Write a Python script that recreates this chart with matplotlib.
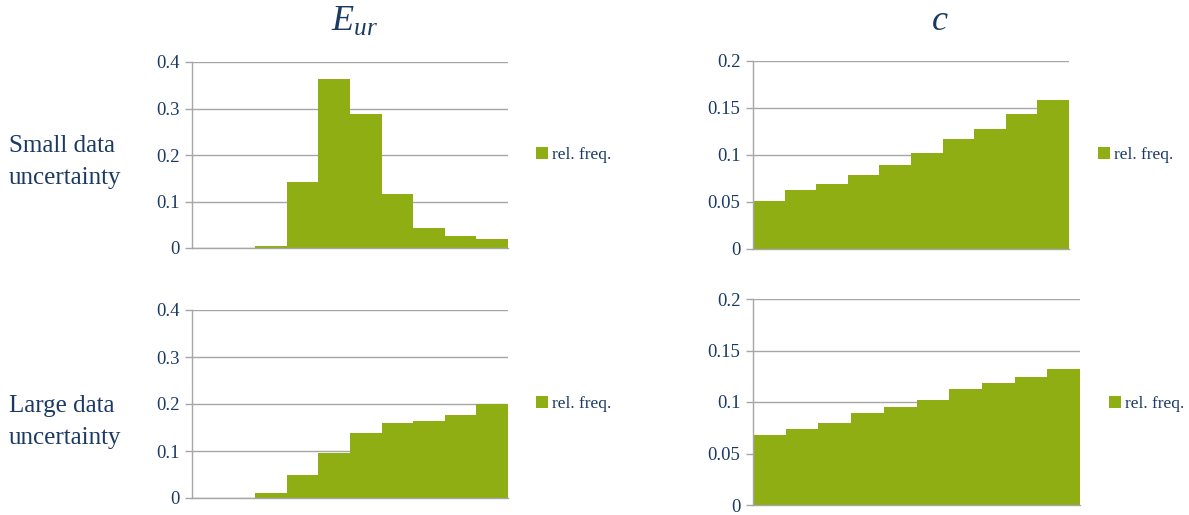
import matplotlib
matplotlib.use("Agg")
import matplotlib.pyplot as plt
from matplotlib.patches import Patch

plt.rcParams['font.family'] = ['Liberation Serif', 'DejaVu Serif']
plt.rcParams['mathtext.fontset'] = 'custom'
plt.rcParams['mathtext.it'] = 'Liberation Serif:italic'
plt.rcParams['mathtext.rm'] = 'Liberation Serif'

# Data (relative frequencies of 10 histogram bins)
bins = list(range(10))
eur_small = [0.0, 0.0, 0.004, 0.141, 0.364, 0.289, 0.116, 0.044, 0.025, 0.020]
eur_large = [0.0, 0.001, 0.011, 0.049, 0.096, 0.139, 0.160, 0.163, 0.177, 0.200]
c_small = [0.051, 0.063, 0.069, 0.079, 0.089, 0.102, 0.117, 0.128, 0.144, 0.158]
c_large = [0.068, 0.074, 0.080, 0.089, 0.095, 0.102, 0.113, 0.118, 0.124, 0.132]
eur_ticks = [0, 0.1, 0.2, 0.3, 0.4]
eur_ticklabels = ['0', '0.1', '0.2', '0.3', '0.4']
c_ticks = [0, 0.05, 0.1, 0.15, 0.2]
c_ticklabels = ['0', '0.05', '0.1', '0.15', '0.2']
col_titles = [r'$E_{ur}$', r'$c$']
row_labels = ['Small data\nuncertainty', 'Large data\nuncertainty']
legend_label = 'rel. freq.'

W, H = 1189, 515
TEXT = '#1b3a63'
BAR = '#8eae14'
GRID = '#a6a6a6'

fig = plt.figure(figsize=(W / 100, H / 100), dpi=100)
fig.patch.set_facecolor('white')


def px_axes(l, t, r, b):
    return fig.add_axes([l / W, 1 - b / H, (r - l) / W, (b - t) / H])


def style(ax, values, ticks, labels, ymax, legend_xy):
    ax.bar(bins, values, width=1.0, align='edge', color=BAR, edgecolor='none', zorder=2)
    ax.set_xlim(0, len(bins))
    ax.set_ylim(0, ymax)
    ax.set_yticks(ticks)
    ax.set_yticklabels(labels)
    ax.set_xticks([])
    ax.yaxis.grid(True, color=GRID, linewidth=1.0, zorder=0)
    ax.set_axisbelow(True)
    for s in ['top', 'right']:
        ax.spines[s].set_visible(False)
    for s in ['left', 'bottom']:
        ax.spines[s].set_color(GRID)
        ax.spines[s].set_linewidth(1.0)
    ax.tick_params(axis='y', colors=GRID, labelcolor=TEXT, labelsize=13.5,
                   length=5, width=1.0, pad=4)
    ax.legend(handles=[Patch(facecolor=BAR, edgecolor='none')], labels=[legend_label],
              loc='center left', bbox_to_anchor=(legend_xy[0] / W, 1 - legend_xy[1] / H),
              bbox_transform=fig.transFigure, frameon=False, borderpad=0, borderaxespad=0,
              handlelength=0.7, handleheight=0.7, handletextpad=0.2,
              prop={'size': 12.5}, labelcolor=TEXT)


ax1 = px_axes(192, 62, 508, 248)
style(ax1, eur_small, eur_ticks, eur_ticklabels, 0.4, (536, 155))
ax2 = px_axes(192, 310, 508, 498)
style(ax2, eur_large, eur_ticks, eur_ticklabels, 0.4, (536, 404))
ax3 = px_axes(753, 61, 1069, 249)
style(ax3, c_small, c_ticks, c_ticklabels, 0.2, (1098, 155))
ax4 = px_axes(753, 299, 1080, 505)
style(ax4, c_large, c_ticks, c_ticklabels, 0.2, (1109, 404))

fig.text(355 / W, 1 - 22 / H, col_titles[0], ha='center', va='center', fontsize=26, color=TEXT)
fig.text(940 / W, 1 - 22 / H, col_titles[1], ha='center', va='center', fontsize=26, color=TEXT)

fig.text(9 / W, 1 - 162 / H, row_labels[0], ha='left', va='center', fontsize=18,
         color=TEXT, linespacing=1.55)
fig.text(9 / W, 1 - 422 / H, row_labels[1], ha='left', va='center', fontsize=18,
         color=TEXT, linespacing=1.55)

fig.savefig('out.png', dpi=100, facecolor='white')
